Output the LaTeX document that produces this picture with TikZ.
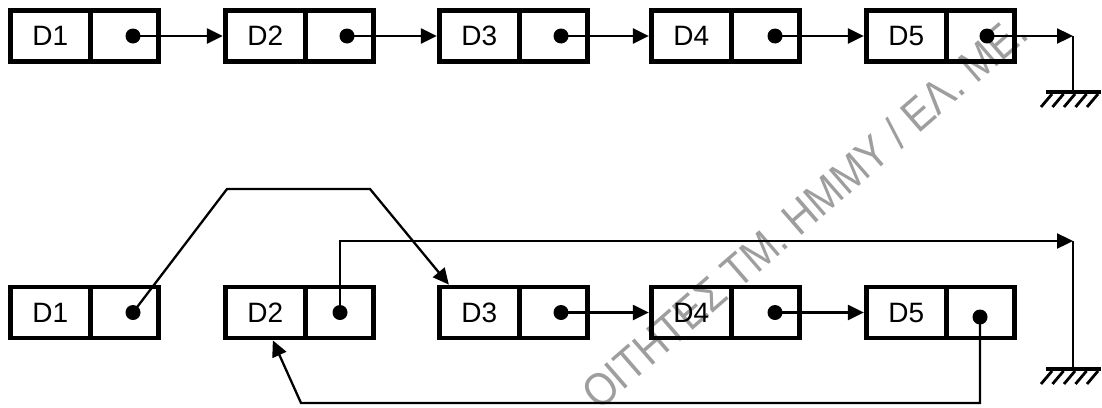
\documentclass[tikz,border=0pt]{standalone}
\usepackage{fontspec}
\setmainfont{Liberation Sans}
\newfontfamily\wmfont{Liberation Sans}
\usetikzlibrary{arrows.meta,calc}
\begin{document}
\begin{tikzpicture}[x=1pt,y=-1pt,
  cell/.style={draw, line width=4.8pt, minimum height=51pt, inner sep=0pt,
               font=\fontsize{28}{30}\selectfont},
  datacell/.style={cell, minimum width=80pt},
  ptrcell/.style={cell, minimum width=68pt},
  dot/.style={circle, fill, draw=none, inner sep=0pt, minimum size=15pt},
  wire/.style={line width=2.3pt},
  link/.style={wire, -{Triangle[length=16pt,width=15pt]}},
  ground/.pic={
    \draw[line width=4.5pt] (-27,0) -- (28,0);
    \foreach \i in {0,...,4}
      \draw[line width=2.8pt] (-21+11.5*\i,2) -- (-32+11.5*\i,15);
  },
  watermark/.style={text=black!38, font=\wmfont\fontsize{46}{50}\selectfont}
]
\useasboundingbox (0,0) rectangle (1102,407);

% faint background stamp
\node[watermark, rotate=41] (stamp) at (804,212)
  {\scalebox{0.88}[1]{ΟΙΤΗΤΕΣ ΤΜ. ΗΜΜΥ / ΕΛ. ΜΕ.}};

% list cells: data part and pointer part, two rows
\foreach \n/\x in {1/10.25, 2/225.25, 3/439.25, 4/651.25, 5/866.25} {
  \node[datacell] (a\n) at (\x+40,36) {D\n};
  \node[ptrcell] (ap\n) at (\x+114,36) {};
  \node[datacell] (b\n) at (\x+40,312.5) {D\n};
  \node[ptrcell] (bp\n) at (\x+114,312.5) {};
}

% pointer dots, first row
\node[dot] (ac1) at (133,36) {};
\node[dot] (ac2) at (347,36) {};
\node[dot] (ac3) at (561,36) {};
\node[dot] (ac4) at (775,36) {};
\node[dot] (ac5) at (987,36) {};

% pointer dots, second row
\node[dot] (bc1) at (133,312.5) {};
\node[dot] (bc2) at (340,312.5) {};
\node[dot] (bc3) at (561,312.5) {};
\node[dot] (bc4) at (775,312.5) {};
\node[dot] (bc5) at (980,317) {};

% first row: plain chain ending in ground
\draw[link] (ac1.center) -- (a2.west);
\draw[link] (ac2.center) -- (a3.west);
\draw[link] (ac3.center) -- (a4.west);
\draw[link] (ac4.center) -- (a5.west);
\coordinate (gt) at (1073,36);
\draw[link] (ac5.center) -- (gt);
\draw[wire] (gt) -- ++(0,56) coordinate (gtb);
\pic at (gtb) {ground};

% second row: relinked chain
\coordinate (k1) at (227,189);
\coordinate (k2) at (370,189);
\draw[link] (bc1.center) -- (k1) -- (k2) -- ($(b3.north west)+(12,0)$);

\coordinate (gb) at (1073,241);
\draw[link] (bc2.center) |- (gb);
\draw[wire] (gb) -- ++(0,128) coordinate (gbb);
\pic at (gbb) {ground};

\draw[link] (bc3.center) -- (b4.west);
\draw[link] (bc4.center) -- (b5.west);

\coordinate (r1) at (980,403);
\coordinate (r2) at (301,403);
\draw[link] (bc5.center) -- (r1) -- (r2) -- ($(b2.south west)+(50,0)$);
\end{tikzpicture}
\end{document}
